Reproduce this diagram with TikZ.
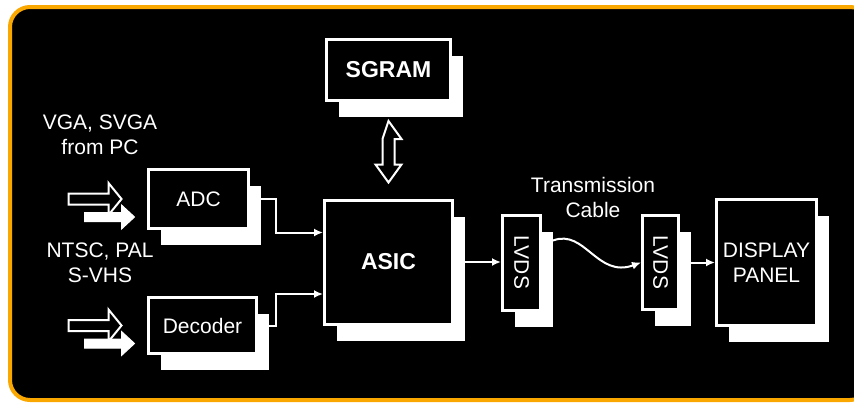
\documentclass[tikz,border=0pt]{standalone}
\usepackage{fontspec}
\setmainfont{Liberation Sans}
\usepackage{tikz}
\usetikzlibrary{arrows.meta,positioning,calc,shadows}
\usepackage{xcolor}
\definecolor{framegold}{RGB}{250,168,0}

\tikzset{
  box/.style={draw=white,line width=3pt,fill=black,text=white,align=center,inner sep=0pt,
    font=\fontsize{21}{25}\selectfont,
    drop shadow={shadow xshift=12.5pt,shadow yshift=-16.5pt,fill=white,opacity=1}},
  boldbox/.style={box,font=\fontsize{23}{27}\selectfont\bfseries},
  caption/.style={text=white,align=center,font=\fontsize{21}{25}\selectfont},
  link/.style={->,white,line width=2pt},
  bus/.style={draw=white,line width=2pt,fill=black},
  inhollow/.style={draw=white,line width=2pt,fill=black},
  infilled/.style={draw=white,line width=1pt,fill=white}
}

\begin{document}
\begin{tikzpicture}[x=1pt,y=-1pt,>={Latex[length=9pt,width=8pt]}]
  \useasboundingbox (0,0) rectangle (854,402);
  \fill[white] (0,0) rectangle (854,402);
  \begin{scope}
    \clip (0,0) rectangle (854,402);
    \draw[framegold,line width=4pt,fill=black,rounded corners=20pt] (10,7) rectangle (870,400);
  \end{scope}

  % blocks
  \node[boldbox,minimum width=124pt,minimum height=61pt] (sgram) at (388.5,70) {SGRAM};
  \node[box,minimum width=100pt,minimum height=59pt] (adc) at (198.5,199) {ADC};
  \node[box,minimum width=108pt,minimum height=56pt] (dec) at (202.5,325.5) {Decoder};
  \node[boldbox,minimum width=128pt,minimum height=124pt] (asic) at (388.5,262) {ASIC};
  \node[box,minimum width=38pt,minimum height=95pt] (lvds1) at (521.5,262.5) {\rotatebox{-90}{LVDS}};
  \node[box,minimum width=36pt,minimum height=94pt] (lvds2) at (660.5,262.5) {\rotatebox{-90}{LVDS}};
  \node[box,minimum width=100pt,minimum height=126pt] (disp) at (766.5,262.5) {DISPLAY\\PANEL};

  % labels
  \node[caption] (vga) at (100,135) {VGA, SVGA\\from PC};
  \node[caption] (ntsc) at (100,263) {NTSC, PAL\\S-VHS};
  \node[caption] (cable) at (593,197) {Transmission\\Cable};

  % video inputs
  \foreach \b in {adc,dec}{
    \draw[inhollow] ($(\b.west)+(-25.5,0)$) -- ++(-13,-16) -- ++(0,10.5) -- ++(-40,0)
      -- ++(0,11) -- ++(40,0) -- ++(0,10.5) -- cycle;
    \draw[infilled] ($(\b.west)+(-12.5,18)$) -- ++(-13,-12) -- ++(0,7.5) -- ++(-37,0)
      -- ++(0,9) -- ++(37,0) -- ++(0,7.5) -- cycle;
  }

  % memory bus
  \coordinate (bt) at ($(sgram.south)+(0,19)$);
  \coordinate (bb) at ($(asic.north)+(0,-16)$);
  \draw[bus] (bt) -- ++(13,18) -- ++(-7,0) -- ($(bb)+(6,-18)$) -- ++(7,0) -- (bb)
    -- ++(-13,-18) -- ++(7,0) -- ($(bt)+(-6,18)$) -- cycle;

  % signal path
  \draw[link] (adc.east) -- ++(26,0) |- ($(asic.west)+(0,-29.5)$);
  \draw[link] (dec.east) -- ++(18,0) |- ($(asic.west)+(0,32)$);
  \draw[link] (asic.east) -- (asic.east -| lvds1.west);
  \coordinate (cab) at ($(lvds1.east)+(11,-22)$);
  \draw[link] (cab) .. controls +(32,-12) and +(-44,16) .. (lvds2.west);
  \draw[link] (lvds2.east) -- (lvds2.east -| disp.west);
\end{tikzpicture}
\end{document}
